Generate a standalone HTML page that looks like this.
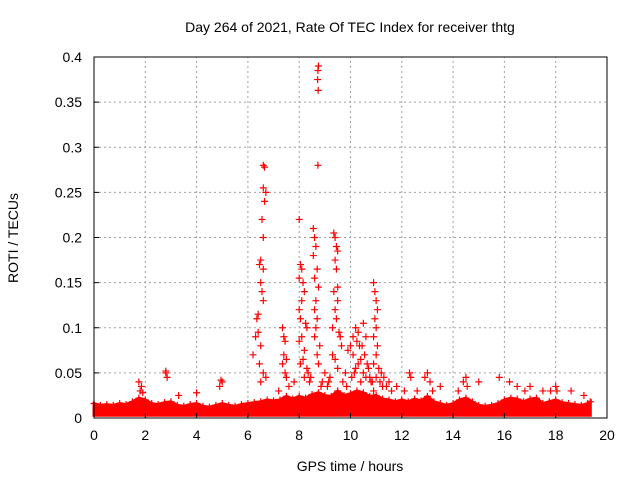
<!DOCTYPE html>
<html><head><meta charset="utf-8"><style>
body{margin:0;background:#fff}
svg{display:block;font-family:"Liberation Sans",sans-serif}
</style></head><body>
<svg id="chart" width="640" height="480">
<text x="350" y="32" text-anchor="middle" font-size="14">Day 264 of 2021, Rate Of TEC Index for receiver thtg</text>
<text x="350" y="471" text-anchor="middle" font-size="14">GPS time / hours</text>
<text transform="translate(18,238) rotate(-90)" text-anchor="middle" font-size="14">ROTI / TECUs</text>
<g id="grid"></g>
<g id="band"></g>
<g id="pts"></g>
<g id="axes"></g>
</svg>
<script>
const xTicks=[0,2,4,6,8,10,12,14,16,18,20];
const yTicks=[0,0.05,0.1,0.15,0.2,0.25,0.3,0.35,0.4];
const yTickLabels=["0","0.05","0.1","0.15","0.2","0.25","0.3","0.35","0.4"];
// baseline envelope, one value per 0.25 h
const bandTimes=[0,0.25,0.5,0.75,1,1.25,1.5,1.75,2,2.25,2.5,2.75,3,3.25,3.5,3.75,4,4.25,4.5,4.75,5,5.25,5.5,5.75,6,6.25,6.5,6.75,7,7.25,7.5,7.75,8,8.25,8.5,8.75,9,9.25,9.5,9.75,10,10.25,10.5,10.75,11,11.25,11.5,11.75,12,12.25,12.5,12.75,13,13.25,13.5,13.75,14,14.25,14.5,14.75,15,15.25,15.5,15.75,16,16.25,16.5,16.75,17,17.25,17.5,17.75,18,18.25,18.5,18.75,19,19.25,19.35];
const bandTop=[0.016,0.014,0.015,0.014,0.016,0.015,0.018,0.022,0.02,0.016,0.015,0.017,0.018,0.014,0.013,0.015,0.016,0.013,0.012,0.014,0.016,0.014,0.013,0.015,0.016,0.017,0.018,0.02,0.019,0.02,0.024,0.021,0.024,0.022,0.026,0.028,0.025,0.024,0.03,0.025,0.027,0.03,0.028,0.024,0.025,0.021,0.02,0.018,0.02,0.018,0.021,0.019,0.024,0.018,0.016,0.014,0.016,0.02,0.022,0.018,0.014,0.013,0.014,0.016,0.02,0.022,0.021,0.018,0.021,0.022,0.016,0.018,0.02,0.017,0.016,0.015,0.014,0.016,0.018];
const bandBottom=0.003;
const spikeT=[1.8,1.85,1.75,1.9,2.8,2.85,2.8,3.3,4.0,4.9,5.0,4.95,
6.6,6.65,6.7,6.6,6.65,6.55,6.6,6.5,6.45,6.6,6.5,6.55,6.6,6.4,6.35,6.4,6.3,6.5,6.2,6.45,6.6,6.7,6.5,
7.35,7.4,7.45,7.4,7.5,7.35,7.45,7.5,
8.0,8.05,8.1,8.0,8.15,8.2,8.1,8.0,8.05,8.25,8.3,8.1,8.0,8.2,8.15,8.05,8.3,8.35,8.2,8.4,
8.55,8.6,8.65,8.55,8.7,8.6,8.75,8.65,8.6,8.7,8.65,8.6,8.8,8.7,8.75,8.75,8.73,8.72,8.74,8.73,
9.35,9.4,9.45,9.5,9.4,9.45,9.5,9.35,9.5,9.4,9.45,9.3,9.55,9.6,9.65,9.3,9.4,9.5,
9.9,10.0,10.1,10.2,10.3,10.25,10.35,10.1,10.4,10.3,10.2,10.15,10.5,10.6,10.45,10.55,10.65,10.7,10.6,10.8,
10.9,10.95,11.0,11.05,10.95,11.0,10.9,11.05,11.0,10.9,11.1,11.0,10.85,11.2,11.3,11.5,11.8,
12.3,12.35,12.9,13.0,13.1,13.5,14.4,14.5,14.55,15.0,15.8,16.2,16.5,17.0,17.5,18.0,18.05,18.6,19.1,
7.6,7.8,8.45,8.9,9.0,9.1,9.2,9.7,9.8,10.05,10.4,10.5,10.75,11.15,11.4,11.6,7.2,8.85,9.15,9.85,10.9,11.25,12.1,12.6,13.2,14.2,16.8,17.8];
const spikeV=[0.03,0.035,0.04,0.028,0.05,0.045,0.052,0.025,0.028,0.035,0.04,0.042,
0.28,0.278,0.25,0.255,0.24,0.22,0.2,0.175,0.17,0.165,0.15,0.14,0.13,0.115,0.11,0.095,0.09,0.08,0.07,0.06,0.05,0.045,0.04,
0.1,0.09,0.085,0.07,0.065,0.06,0.05,0.045,
0.22,0.17,0.165,0.155,0.15,0.14,0.13,0.12,0.11,0.105,0.1,0.09,0.085,0.075,0.065,0.06,0.055,0.05,0.045,0.04,
0.21,0.2,0.19,0.18,0.165,0.155,0.145,0.13,0.12,0.11,0.1,0.09,0.08,0.07,0.06,0.39,0.385,0.375,0.363,0.28,
0.205,0.2,0.19,0.185,0.175,0.165,0.145,0.14,0.13,0.12,0.11,0.1,0.095,0.09,0.08,0.07,0.065,0.055,
0.075,0.08,0.09,0.1,0.095,0.085,0.08,0.07,0.065,0.06,0.055,0.05,0.105,0.09,0.08,0.07,0.06,0.055,0.045,0.04,
0.15,0.14,0.13,0.12,0.11,0.1,0.09,0.08,0.07,0.06,0.055,0.045,0.04,0.05,0.045,0.04,0.035,
0.05,0.045,0.045,0.05,0.04,0.035,0.04,0.045,0.035,0.04,0.045,0.04,0.035,0.035,0.03,0.035,0.03,0.03,0.025,
0.035,0.04,0.045,0.04,0.05,0.035,0.045,0.04,0.05,0.045,0.04,0.05,0.045,0.04,0.035,0.03,0.03,0.035,0.04,0.035,0.03,0.035,0.03,0.03,0.03,0.03,0.03,0.03];
const NS="http://www.w3.org/2000/svg";
const X0=94,X1=607,Y0=418,Y1=57;
const xs=t=>X0+(t-0)/(20-0)*(X1-X0);
const ys=v=>Y0-(v-0)/(0.4-0)*(Y0-Y1);
function mk(tag,attrs,parent){const e=document.createElementNS(NS,tag);for(const k in attrs)e.setAttribute(k,attrs[k]);parent.appendChild(e);return e;}
const grid=document.getElementById('grid'),axes=document.getElementById('axes');
xTicks.forEach((t,i)=>{
  if(i>0&&i<xTicks.length-1){const l=mk('line',{x1:xs(t),x2:xs(t),y1:Y0,y2:Y1,stroke:'#a0a0a0','stroke-dasharray':'2,3'},grid);
  
  }
  const tk=mk('line',{x1:xs(t),x2:xs(t),y1:Y0,y2:Y0-5,stroke:'#000'},axes);
  
  
  const tx=mk('text',{x:xs(t),y:Y0+22,'text-anchor':'middle','font-size':'14'},axes);tx.textContent=t;
  
  
});
yTicks.forEach((v,i)=>{
  if(i>0&&i<yTicks.length-1){const l=mk('line',{x1:X0,x2:X1,y1:ys(v),y2:ys(v),stroke:'#a0a0a0','stroke-dasharray':'2,3'},grid);
  
  }
  const tk=mk('line',{x1:X0,x2:X0+5,y1:ys(v),y2:ys(v),stroke:'#000'},axes);
  
  
  const tx=mk('text',{x:X0-12,y:ys(v)+5,'text-anchor':'end','font-size':'14'},axes);tx.textContent=yTickLabels[i];
  
  
});
const box=mk('rect',{x:X0,y:Y1,width:X1-X0,height:Y0-Y1,fill:'none',stroke:'#000'},axes);


const band=document.getElementById('band');
let d='M'+xs(bandTimes[0])+','+ys(bandBottom);
bandTimes.forEach((t,i)=>{d+=' L'+xs(t)+','+ys(bandTop[i]);});
d+=' L'+xs(bandTimes[bandTimes.length-1])+','+ys(bandBottom)+' Z';
const bp=mk('path',{d:d,fill:'#f00',stroke:'#f00','stroke-width':'3','stroke-linejoin':'miter'},band);


bandTimes.forEach((t,i)=>{
  const g=mk('path',{d:`M${xs(t)-3.5},${ys(bandTop[i])}h7M${xs(t)},${ys(bandTop[i])-3.5}v7`,stroke:'#f00','stroke-width':'1.2'},band);
  
  
});
const pts=document.getElementById('pts');
spikeT.forEach((t,i)=>{
  const x=xs(t),y=ys(spikeV[i]);
  const p=mk('path',{d:`M${x-3.5},${y}h7M${x},${y-3.5}v7`,stroke:'#f00','stroke-width':'1.2'},pts);
  
  
});
</script>
</body></html>
